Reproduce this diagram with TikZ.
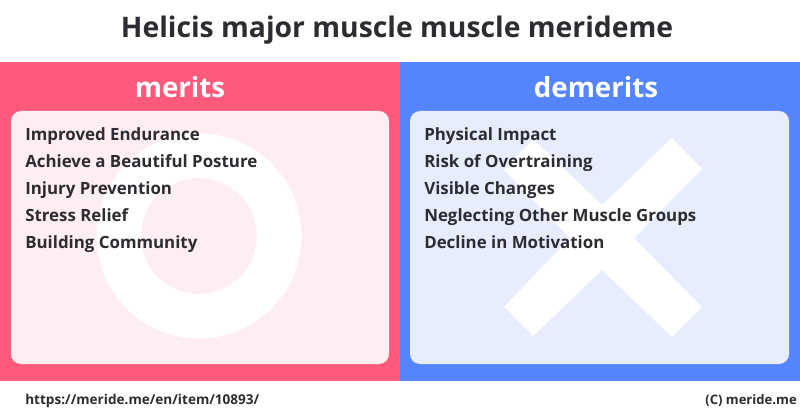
\documentclass[tikz,border=0pt]{standalone}
\usepackage{fontspec}
\setmainfont{Open Sans}
\definecolor{meritred}{HTML}{FF5A7B}
\definecolor{meritpale}{HTML}{FEEDF1}
\definecolor{demeritblue}{HTML}{5584FF}
\definecolor{demeritpale}{HTML}{E7EDFD}
\definecolor{inktext}{HTML}{2C2C32}
\tikzset{
  headline/.style={inner sep=0pt,anchor=center,text=inktext,font=\fontsize{20.13pt}{24pt}\bfseries},
  sidetitle/.style={inner sep=0pt,anchor=center,text=white,font=\fontsize{19.7pt}{24pt}\bfseries},
  itemtext/.style={inner sep=0pt,anchor=base west,text=inktext,font=\fontsize{12pt}{15pt}\bfseries},
  foottext/.style={inner sep=0pt,anchor=base,text=inktext,font=\fontsize{9.65pt}{12pt}\bfseries}
}
\begin{document}
\begin{tikzpicture}[x=0.025cm,y=-0.025cm]
    \useasboundingbox (0,0) rectangle (800,418);
    \fill[white] (0,0) rectangle (800,418);
    \node[headline] (title) at (397,30) {Helicis major muscle muscle merideme};
    % merits side
    \fill[meritred] (0,62) rectangle (400,381);
    \fill[meritpale,rounded corners=0.25cm] (11,111) rectangle (389,364);
    \fill[white,even odd rule] (199,236) circle (102.5) (199,236) circle (58);
    \node[sidetitle] (merits) at (180,87) {merits};
    \foreach \y/\txt [count=\i] in {140/Improved Endurance,167/Achieve a Beautiful Posture,
      194/Injury Prevention,221/Stress Relief,248/Building Community}
      \node[itemtext] (merit\i) at (25,\y+0.5) {\txt};
    % demerits side
    \fill[demeritblue] (400,62) rectangle (800,381);
    \fill[demeritpale,rounded corners=0.25cm] (410,111) rectangle (789,364);
    \fill[white] (533,139) -- (602,205) -- (672,138) -- (702,169) -- (634,238) -- (702,307)
      -- (672,337) -- (602,270) -- (533,336) -- (504,307) -- (570,238) -- (504,170) -- cycle;
    \node[sidetitle] (demerits) at (596,87) {demerits};
    \foreach \y/\txt [count=\i] in {140/Physical Impact,167/Risk of Overtraining,
      194/Visible Changes,221/Neglecting Other Muscle Groups,248/Decline in Motivation}
      \node[itemtext] (demerit\i) at (424,\y+0.5) {\txt};
    % footer
    \node[foottext,anchor=base west] (link) at (25,404) {https://meride.me/en/item/10893/};
    \node[foottext,anchor=base east,font=\fontsize{9.3pt}{12pt}\bfseries] (credit) at (797,404) {(C) meride.me};
\end{tikzpicture}
\end{document}
